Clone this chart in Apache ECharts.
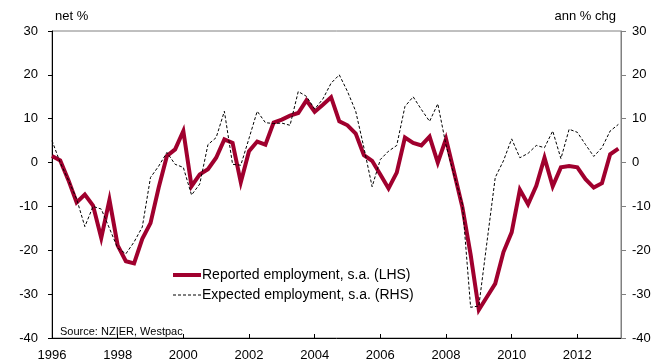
<!DOCTYPE html>
<html><head><meta charset="utf-8">
<script src="https://cdn.jsdelivr.net/npm/echarts@6/dist/echarts.min.js"></script>
<style>html,body{margin:0;padding:0;background:#fff}#c{width:664px;height:362px}</style>
</head><body><div id="c"></div>
<script>
// Quarterly data, first quarter 1996 Q1
const startYear = 1996;
const quartersPerYear = 4;
const reported = [
  1.5, 0.5, -4, -9.1,
  -7.3, -9.8, -17.2, -8.5,
  -18.9, -22.5, -23, -17.4,
  -13.8, -5.7, 1.5, 3,
  7.2, -5.4, -2.7, -1.5,
  1.1, 5.3, 4.5, -4.5,
  2.6, 4.8, 4.1, 9.1,
  9.8, 10.7, 11.3, 14.2,
  11.6, 13.2, 14.9, 9.4,
  8.5, 6.6, 1.7, 0.4,
  -2.7, -5.9, -2.3, 5.7,
  4.5, 3.9, 5.9, 0,
  5.4, -2.3, -10.2, -21,
  -33.6, -30.6, -27.6, -20.4,
  -15.9, -6.2, -9.5, -5.3,
  1.1, -5.4, -1.1, -0.8,
  -1.1, -3.8, -5.7, -4.7,
  1.9, 3.2
];
const expected = [
  5, 0, -4, -8.3,
  -14.6, -10, -10.6, -15,
  -19.5, -20.8, -18.1, -14.7,
  -3.4, -0.8, 2.3, -0.4,
  -1.1, -7.4, -4.9, 4.1,
  5.7, 11.7, -0.4, -0.6,
  5.5, 11.7, 9.1, 8.9,
  9, 8.5, 16.2, 15.1,
  12.2, 14.5, 18.1, 20,
  16.2, 11.7, 3.4, -5.5,
  0.7, 2.6, 3.9, 12.8,
  15, 12.1, 9.4, 13.4,
  4, -3, -9.5, -33,
  -32.7, -18, -3.4, 0.4,
  5.4, 1.1, 2.1, 3.9,
  3.4, 7.2, 0.9, 7.6,
  6.9, 4.1, 1.4, 3.4,
  7.2, 8.7
];
const seriesNames = ['Reported employment, s.a. (LHS)', 'Expected employment, s.a. (RHS)'];
const leftAxisTitle = 'net %';
const rightAxisTitle = 'ann % chg';
const sourceText = 'Source: NZIER, Westpac';
const yMin = -40, yMax = 30, yStep = 10;
const xMin = 1996, xMax = 2013.33, xStep = 2;

const xOf = i => startYear + i / quartersPerYear;
const repData = reported.map((v, i) => [xOf(i), v]);
const expData = expected.map((v, i) => [xOf(i), v]);

const RED = '#A0002E';
const FONT = '"Liberation Sans", Arial, sans-serif';
const chart = echarts.init(document.getElementById('c'), null, {renderer: 'canvas'});
chart.setOption({
  animation: false,
  backgroundColor: '#fff',
  textStyle: {fontFamily: FONT},
  grid: {left: 52, right: 43, top: 31, bottom: 22, containLabel: false,
         show: true, borderColor: '#808080', borderWidth: 1, backgroundColor: 'transparent'},
  xAxis: {
    type: 'value', min: xMin, max: xMax, interval: xStep,
    axisLine: {show: true, onZero: false, lineStyle: {color: '#000', width: 1}},
    axisTick: {show: true, inside: true, length: 4, lineStyle: {color: '#000'}},
    axisLabel: {color: '#000', fontSize: 13, fontFamily: FONT, margin: 11,
      formatter: v => (Math.abs(v - Math.round(v)) < 1e-6 ? String(Math.round(v)) : ''),
      showMaxLabel: false},
    splitLine: {show: false}
  },
  yAxis: [{
    type: 'value', min: yMin, max: yMax, interval: yStep, position: 'left',
    axisLine: {show: true, onZero: false, lineStyle: {color: '#000', width: 1}},
    axisTick: {show: true, inside: false, length: 4, lineStyle: {color: '#000'}},
    axisLabel: {color: '#000', fontSize: 13, fontFamily: FONT, margin: 14},
    splitLine: {show: false}
  }, {
    type: 'value', min: yMin, max: yMax, interval: yStep, position: 'right',
    axisLine: {show: true, onZero: false, lineStyle: {color: '#808080', width: 1}},
    axisTick: {show: true, inside: false, length: 5, lineStyle: {color: '#808080'}},
    axisLabel: {color: '#000', fontSize: 13, fontFamily: FONT, margin: 11},
    splitLine: {show: false}
  }],
  legend: {
    left: 166, top: 263, orient: 'vertical', itemWidth: 28, itemHeight: 12, itemGap: 6,
    itemStyle: {opacity: 0},
    textStyle: {fontSize: 14, color: '#000', fontFamily: FONT, padding: [0, 0, 0, -4]},
    data: [
      {name: seriesNames[0], lineStyle: {width: 4, color: RED}},
      {name: seriesNames[1], lineStyle: {width: 1, color: '#000', type: [3, 2]}}
    ]
  },
  graphic: [
    {type: 'text', left: 55, top: 10, style: {text: leftAxisTitle, fontSize: 13, fontFamily: FONT, fill: '#000'}},
    {type: 'text', right: 48, top: 10, style: {text: rightAxisTitle, fontSize: 13, fontFamily: FONT, fill: '#000'}},
    {type: 'text', left: 60, top: 326, style: {text: sourceText, fontSize: 11, fontFamily: FONT, fill: '#000'}}
  ],
  series: [{
    name: seriesNames[0], type: 'line', yAxisIndex: 0, data: repData,
    symbol: 'none', showSymbol: false,
    lineStyle: {color: RED, width: 4, join: 'miter'},
    itemStyle: {color: RED}, z: 2
  }, {
    name: seriesNames[1], type: 'line', yAxisIndex: 1, data: expData,
    symbol: 'none', showSymbol: false,
    lineStyle: {color: '#000', width: 1, type: [3, 2]},
    itemStyle: {color: '#000'}, z: 3
  }]
});
</script>
</body></html>
